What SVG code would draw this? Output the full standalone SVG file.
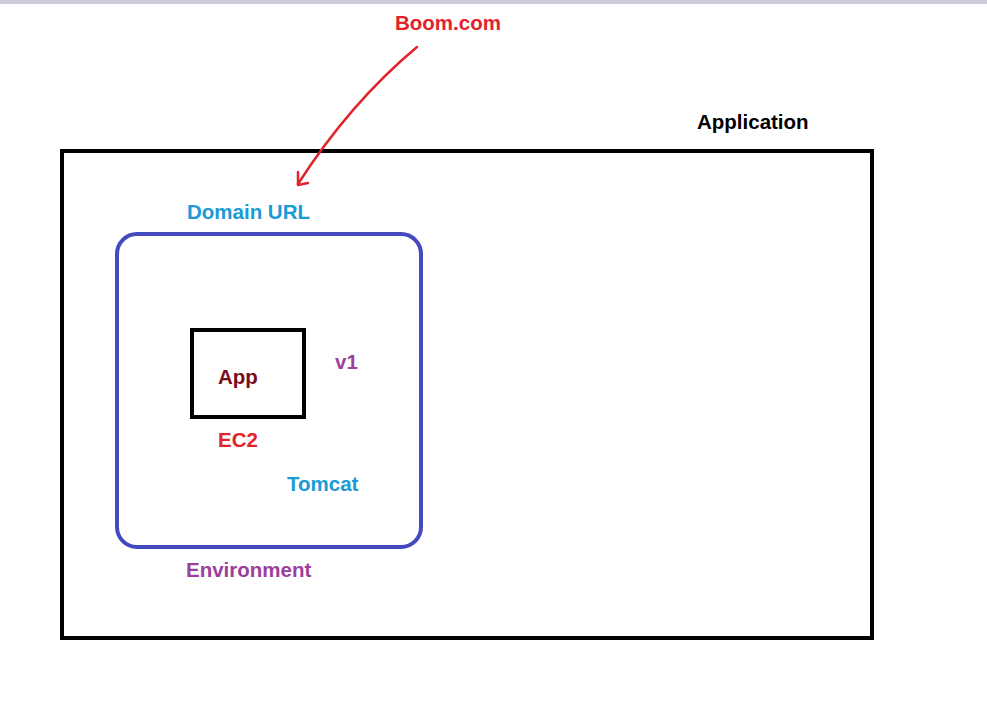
<svg xmlns="http://www.w3.org/2000/svg" width="987" height="708" viewBox="0 0 987 708">
<style>
text{font-family:"Liberation Sans",Arial,sans-serif;font-weight:bold;font-size:20.5px}
.red{fill:#e0242a}.blue{fill:#1a9ad6}.purple{fill:#9b3f9b}.dark{fill:#7a0c1a}.black{fill:#000}
</style>
<rect x="0" y="0" width="987" height="708" fill="#fff"/>
<rect x="0" y="0" width="987" height="4" fill="#c9cbd9"/>
<g id="application">
<rect x="62" y="151" width="810" height="487" fill="none" stroke="#000" stroke-width="4"/>
<text class="black" x="697" y="129">Application</text>
</g>
<g id="environment">
<rect x="117" y="234" width="304" height="313" rx="20" fill="none" stroke="#4449bd" stroke-width="4"/>
<text class="blue" x="187" y="219">Domain URL</text>
<text class="purple" x="186" y="577">Environment</text>
<text class="purple" x="335" y="369">v1</text>
<text class="blue" x="287" y="491">Tomcat</text>
</g>
<g id="ec2">
<rect x="192" y="330" width="112" height="87" fill="none" stroke="#000" stroke-width="4"/>
<text class="dark" x="218" y="384">App</text>
<text class="red" x="218" y="447">EC2</text>
</g>
<g id="boom">
<text class="red" x="395" y="30">Boom.com</text>
</g>
<g id="connectors" fill="none" stroke="#e0242a" stroke-width="2.5" stroke-linecap="round" stroke-linejoin="round">
<path d="M417,47 Q350,103 298,184"/>
<path d="M298,172 L298,185 L308,183"/>
</g>
</svg>
